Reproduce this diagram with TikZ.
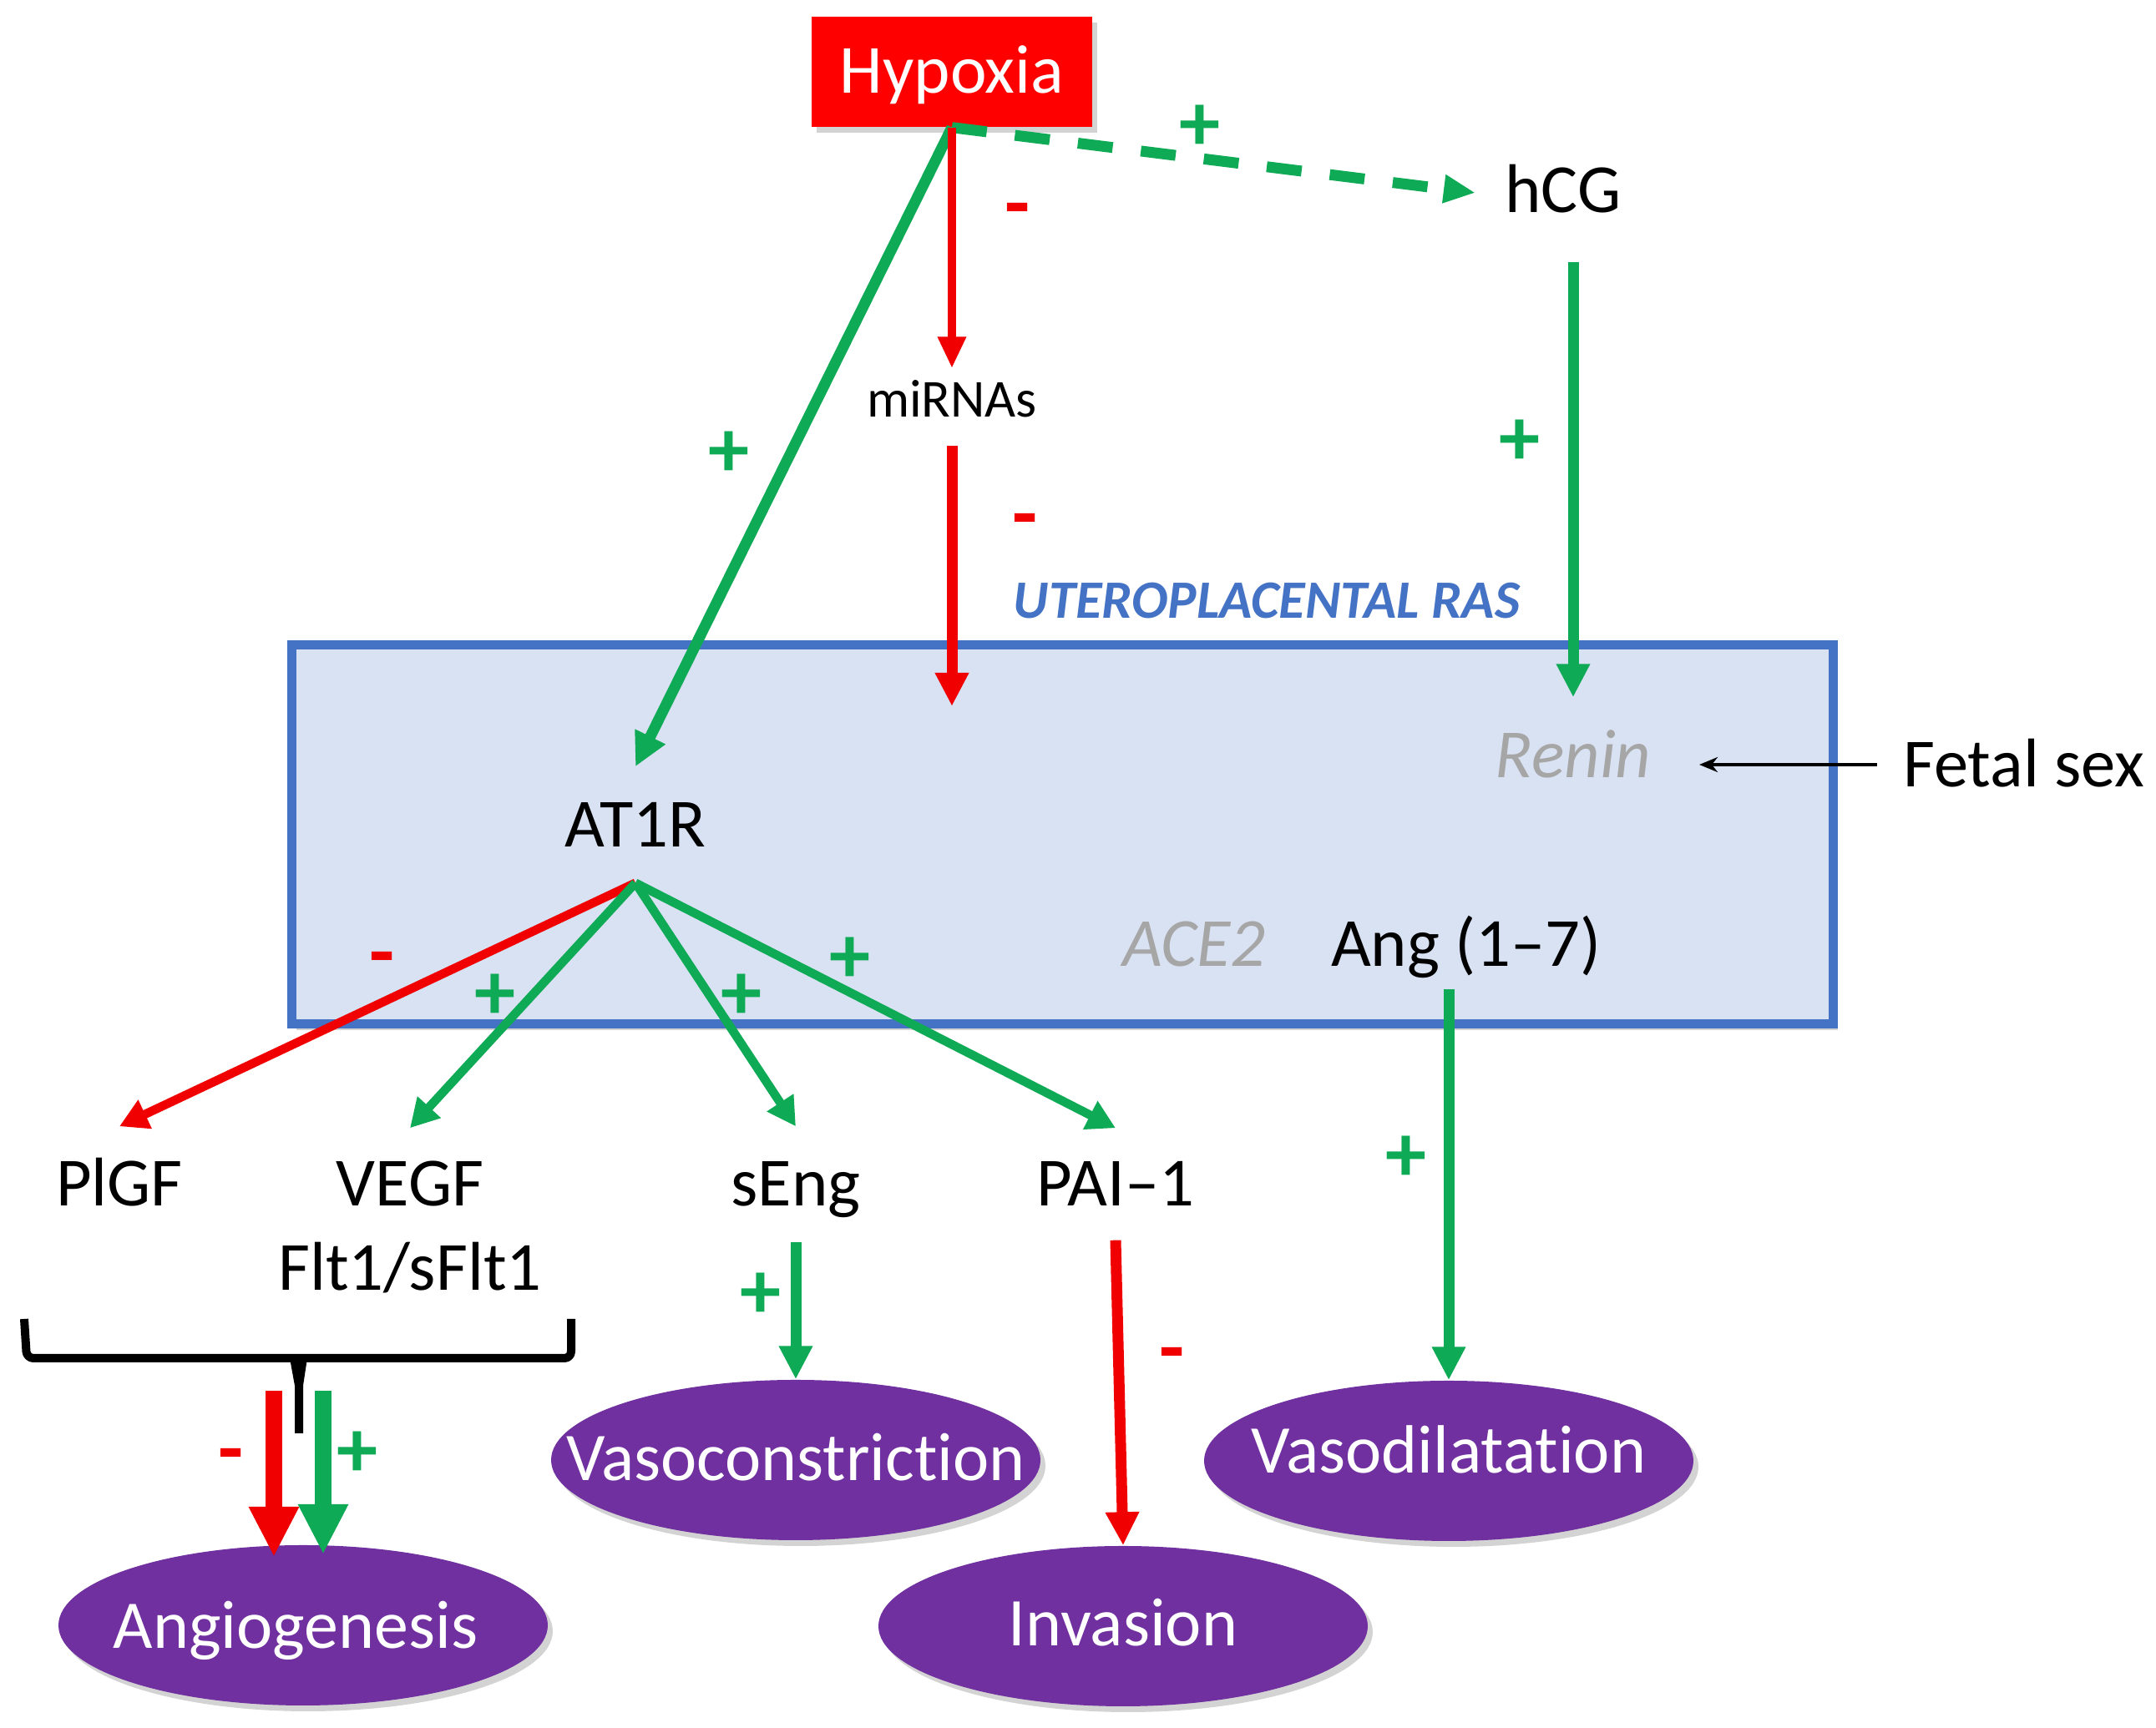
\documentclass[tikz,border=0pt]{standalone}
\usepackage{fontspec}
\setmainfont[Ligatures=NoCommon]{Carlito}
\usetikzlibrary{arrows.meta,shapes.geometric,shadows}
\definecolor{posgreen}{HTML}{0FAA55}
\definecolor{negred}{HTML}{F00000}
\definecolor{rasfill}{HTML}{D9E2F3}
\definecolor{rasblue}{HTML}{4472C4}
\definecolor{outcome}{HTML}{7030A0}
\definecolor{faded}{HTML}{A6A6A6}
\newcommand{\efftext}[1]{\makebox[0pt]{#1}}

\begin{document}
\begin{tikzpicture}
    [every node/.style={inner sep=0pt,font=\fontsize{23.5}{28}\selectfont},
     softshadow/.style={drop shadow={shadow xshift=0.06,shadow yshift=-0.07,opacity=0.35}},
     effect/.style={ellipse,fill=outcome,text=white,minimum width=5.86cm,minimum height=1.92cm,softshadow,font=\fontsize{23.3}{28}\selectfont},
     plus/.style={text=posgreen,yshift=-0.05cm,font=\bfseries\fontsize{28}{30}\selectfont},
     minus/.style={text=negred,yshift=-0.12cm,font=\bfseries\fontsize{28}{30}\selectfont},
     up/.style={draw=posgreen,line width=0.13cm,-{Triangle[length=0.40cm,width=0.38cm]}},
     down/.style={draw=negred,line width=0.13cm,-{Triangle[length=0.40cm,width=0.38cm]}},
     upthin/.style={draw=posgreen,line width=0.105cm,-{Triangle[length=0.34cm,width=0.36cm]}},
     downfat/.style={draw=negred,line width=0.20cm,-{Triangle[length=0.60cm,width=0.56cm]}},
     upfat/.style={draw=posgreen,line width=0.20cm,-{Triangle[length=0.60cm,width=0.56cm]}}]
    \useasboundingbox (0,0) rectangle (25.82,20.70);

    % uteroplacental box
    \node[rectangle,draw=rasblue,line width=0.11cm,fill=rasfill,minimum width=18.46cm,minimum height=4.54cm,softshadow] (ras) at (12.72,10.70) {};
    \node[text=rasblue,font=\bfseries\itshape\fontsize{18.4}{22}\selectfont] (raslabel) at (15.17,13.50) {UTEROPLACENTAL RAS};

    \node[fill=red,text=white,minimum width=3.36cm,text height=0.62cm,text depth=0.10cm,inner ysep=0.30cm,softshadow] (hypoxia) at (11.40,19.84) {Hypoxia};
    \node[inner xsep=0.35cm,text height=1.06cm,text depth=0.58cm] (hcg) at (18.72,18.39) {hCG};
    \node[text height=0.58cm,text depth=0.33cm,font=\fontsize{18.2}{22}\selectfont] (mirnas) at (11.40,15.825) {miRNAs};
    \node[text height=0.96cm,text depth=0.42cm] (at1r) at (7.61,10.82) {AT1R};
    \node[text=faded,inner xsep=0.57cm,text height=0.96cm,text depth=0.64cm,font=\itshape\fontsize{23.5}{28}\selectfont] (renin) at (18.84,11.54) {Renin};
    \node[inner xsep=0.31cm,text height=0.80cm,text depth=0.26cm] (fetal) at (24.24,11.54) {Fetal sex};
    \node[text=faded,text height=0.50cm,text depth=0.26cm,font=\itshape\fontsize{23.5}{28}\selectfont] (ace) at (14.30,9.24) {ACE2};
    \node[text height=0.50cm,text depth=0.26cm] (ang) at (17.56,9.24) {Ang (1--7)};

    \node[text height=0.95cm,text depth=0.10cm] (plgf) at (1.43,6.675) {PlGF};
    \node[text height=0.93cm,text depth=0.10cm] (vegf) at (4.91,6.665) {VEGF};
    \node (flt) at (4.91,5.51) {Flt1/sFlt1};
    \node[text height=0.95cm,text depth=0.42cm] (seng) at (9.53,6.515) {sEng};
    \node[text height=0.93cm,text depth=0.40cm] (pai) at (13.36,6.515) {PAI--1};

    \node[effect,text height=0.70cm,text depth=0.14cm] (angio) at (3.63,1.23) {\efftext{Angiogenesis\hspace{0.18cm}}};
    \node[effect,text height=0.65cm,text depth=0.15cm] (vasoc) at (9.53,3.21) {\efftext{Vasoconstriction}};
    \node[effect,text height=0.45cm,text depth=0.15cm] (vasod) at (17.35,3.20) {\efftext{Vasodilatation}};
    \node[effect,text height=0.60cm,text depth=0.12cm] (invasion) at (13.45,1.22) {\efftext{Invasion}};

    \coordinate (rasin) at (11.40,12.24);
    \coordinate (redtop) at (3.28,4.04);
    \coordinate (redtip) at (3.28,2.05);
    \coordinate (greentop) at (3.87,4.04);
    \coordinate (greentip) at (3.87,2.08);

    % bracket under the growth factors
    \draw[line width=0.10cm,line join=round,rounded corners=0.08cm] (0.29,4.90) -- (0.32,4.43) -- (6.84,4.43) -- (6.84,4.90);
    \fill (3.47,4.43) -- (3.68,4.43) -- (3.63,4.10) -- (3.63,3.53) -- (3.53,3.53) -- (3.53,4.10) -- cycle;

    \draw[up] (hypoxia.south) -- (at1r.north);
    \draw[up,dash pattern=on 0.42cm off 0.34cm,-{Triangle[length=0.38cm,width=0.32cm]}] (hypoxia.south) -- (hcg.west);
    \draw[up] (hcg.south -| renin.north) -- (renin.north);
    \draw[up] (ang.south -| vasod.north) -- (vasod.north);
    \draw[up] (seng.south) -- (vasoc.north);
    \draw[draw=negred,line width=0.10cm,-{Triangle[length=0.38cm,width=0.32cm]}] (hypoxia.south) -- (mirnas.north);
    \draw[down] (mirnas.south) -- (rasin);
    \draw[down] (pai.south) -- (invasion.north);
    \draw[draw=negred,line width=0.105cm,-{Triangle[length=0.34cm,width=0.36cm]}] (at1r.south) -- (plgf.north);
    \foreach \to in {vegf,seng,pai}
    \draw[upthin] (at1r.south) -- (\to.north);
    \draw[draw=black,line width=0.035cm,-{Stealth[length=0.22cm,width=0.18cm]}] (fetal.west) -- (renin.east);
    \draw[downfat] (redtop) -- (redtip);
    \draw[upfat] (greentop) -- (greentip);

    \foreach \name/\x/\y in {pa/14.37/19.22,pb/8.73/15.31,pc/18.20/15.45,pd/5.93/8.81,pe/8.88/8.81,pf/10.18/9.25,pg/16.84/6.87,ph/9.11/5.23,pi/4.28/3.33}
    \node[plus] (\name) at (\x,\y) {+};
    \foreach \name/\x/\y in {ma/12.19/18.22,mb/12.28/14.50,mc/4.58/9.25,md/14.04/4.51,me/2.77/3.30}
    \node[minus] (\name) at (\x,\y) {-};
\end{tikzpicture}
\end{document}
